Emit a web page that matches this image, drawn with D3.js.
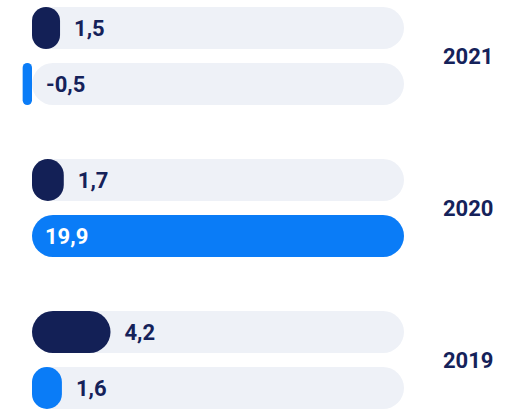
<!DOCTYPE html>
<html>
<head>
<meta charset="utf-8">
<script src="https://cdn.jsdelivr.net/npm/d3@7"></script>
<style>
  html, body { margin: 0; padding: 0; background: #ffffff; }
  svg { display: block; font-family: Roboto, "Noto Sans", sans-serif; }
</style>
</head>
<body>
<div id="chart"></div>
<script>
'use strict';

// ── Data ────────────────────────────────────────────────────
const YEARS    = ['2021', '2020', '2019'];
const SERIES   = ['a', 'b'];
const VALUES_A = [1.5, 1.7, 4.2];     // dark bars
const VALUES_B = [-0.5, 19.9, 1.6];   // blue bars
const X_MAX    = 19.9;

const COLOURS = { a: '#132056', b: '#0a7cf7' };
const TRACK   = '#eef1f7';
const INK     = '#15225a';

const rows = YEARS.map((year, i) => ({
    year,
    bars: [
        { key: 'a', value: VALUES_A[i] },
        { key: 'b', value: VALUES_B[i] }
    ]
}));

// ── Layout ──────────────────────────────────────────────────
const W = 529, H = 409;

const svg = d3.select('#chart').append('svg')
    .attr('width', W)
    .attr('height', H);

const y = d3.scaleBand()
    .domain(YEARS)
    .range([7, 409])
    .paddingInner(54 / 152)
    .paddingOuter(0);

const ySub = d3.scaleBand()
    .domain(SERIES)
    .range([0, y.bandwidth()])
    .paddingInner(0.25);

const x = d3.scaleLinear()
    .domain([0, X_MAX])
    .range([32, 404]);

const barH = ySub.bandwidth();
const x0 = x(0);
const xEnd = x.range()[1];

const groups = svg.selectAll('g.year')
    .data(rows)
    .join('g')
    .attr('class', 'year')
    .attr('transform', d => `translate(0,${y(d.year)})`);

const bars = groups.selectAll('g.bar')
    .data(d => d.bars)
    .join('g')
    .attr('class', 'bar')
    .attr('transform', d => `translate(0,${ySub(d.key)})`);

// background track
bars.append('rect')
    .attr('x', x0)
    .attr('width', xEnd - x0)
    .attr('height', barH)
    .attr('rx', barH / 2)
    .attr('fill', TRACK);

// value bar
bars.append('rect')
    .attr('x', d => Math.min(x(d.value), x0))
    .attr('width', d => Math.abs(x(d.value) - x0))
    .attr('height', barH)
    .attr('rx', d => Math.min(barH / 2, Math.abs(x(d.value) - x0) / 2))
    .attr('fill', d => COLOURS[d.key]);

// value labels — inside the bar when there is no room after it
const fmt = v => d3.format('.1f')(v).replace('.', ',').replace('−', '-');

bars.append('text')
    .attr('x', d => {
        const end = Math.max(x(d.value), x0);
        return end + 60 > xEnd ? x0 + 13 : end + 14;
    })
    .attr('y', barH / 2)
    .attr('dominant-baseline', 'central')
    .attr('font-size', 22)
    .attr('font-weight', 700)
    .attr('fill', d => Math.max(x(d.value), x0) + 60 > xEnd ? '#ffffff' : INK)
    .text(d => fmt(d.value));

// year labels
groups.append('text')
    .attr('x', 443)
    .attr('y', y.bandwidth() / 2)
    .attr('dominant-baseline', 'central')
    .attr('font-size', 22)
    .attr('font-weight', 700)
    .attr('fill', INK)
    .text(d => d.year);
</script>
</body>
</html>
